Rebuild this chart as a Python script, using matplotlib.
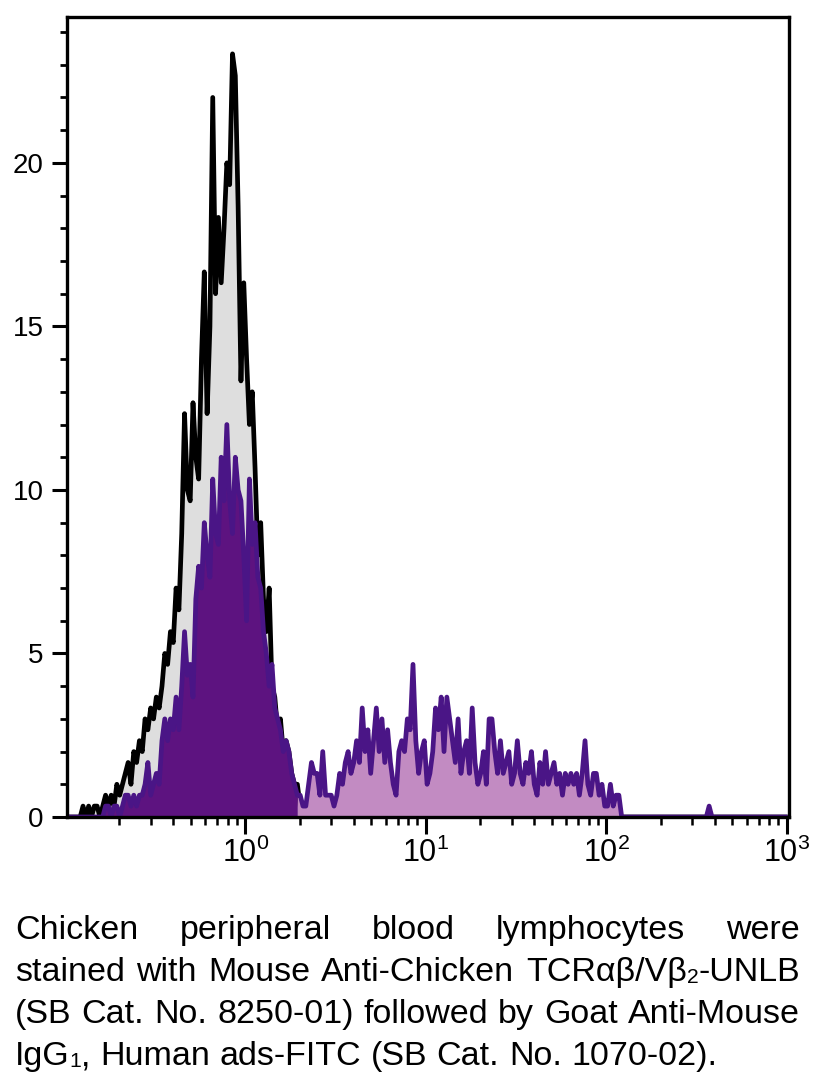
import matplotlib
matplotlib.use('Agg')
import matplotlib.pyplot as plt
import numpy as np
from matplotlib.ticker import LogLocator, MultipleLocator

# canais: 256 canais log, 64 por década, de 10^-1 a 10^3
n_canais = 256
canais_por_decada = 64
log_min = -1

# eventos por canal (3 eventos = 1 unidade no eixo y)
escala_y = 1 / 3

# controle (cinza, contorno preto)
controle = ([0] * 6 +
            [1, 0, 1, 0, 1, 1, 0, 1, 2, 1, 2, 1, 3, 2, 3, 4, 5, 3, 6, 5,
             7, 6, 9, 8, 10, 9, 11, 10, 12, 15, 14, 17, 16, 21, 19, 26, 37, 30, 29, 38,
             33, 31, 42, 50, 37, 45, 66, 48, 55, 49, 54, 60, 58, 70, 68, 56, 40, 49, 42, 36,
             39, 32, 24, 27, 20, 17, 21, 12, 11, 8, 9, 6, 7, 6, 4, 3, 3, 1, 1, 0] +
            [0] * 170)

# TCR ab / Vb2 (roxo)
amostra = ([0] * 14 +
           [1, 1, 0, 1, 1, 0, 1, 2, 2, 1, 2, 1, 2, 2, 3, 5, 2, 3, 4, 3,
            7, 9, 7, 9, 8, 11, 8, 12, 17, 13, 14, 11, 20, 23, 21, 27, 24, 22, 31, 26,
            25, 33, 29, 36, 29, 26, 33, 30, 29, 24, 18, 31, 25, 27, 22, 21, 17, 15, 12, 14,
            10, 9, 8, 6, 7, 6, 4, 3, 2, 2, 1, 1, 3, 5, 4, 4, 2, 6, 2, 2,
            2, 1, 2, 4, 3, 5, 6, 4, 5, 7, 5, 10, 6, 8, 4, 7, 10, 6, 9, 5,
            8, 5, 3, 2, 6, 7, 6, 9, 8, 14, 7, 4, 6, 7, 3, 4, 6, 10, 8, 11,
            6, 11, 9, 7, 5, 9, 4, 6, 7, 4, 10, 5, 3, 4, 6, 3, 9, 9, 6, 4,
            7, 4, 5, 6, 3, 4, 7, 4, 3, 5, 4, 6, 3, 2, 5, 3, 6, 3, 4, 5,
            3, 4, 2, 4, 3, 4, 3, 4, 2, 4, 7, 3, 2, 4, 4, 2, 3, 1, 1, 3,
            1, 2, 2] +
           [0] * 31 + [1] + [0] * 27)

ultimo_canal_escuro = 82   # preenchimento roxo escuro até ~2

ticks_y = [0, 5, 10, 15, 20]

legenda = [
    ["Chicken", "peripheral", "blood", "lymphocytes", "were"],
    ["stained", "with", "Mouse", "Anti-Chicken", "TCRαβ/Vβ_2-UNLB"],
    ["(SB", "Cat.", "No.", "8250-01)", "followed", "by", "Goat", "Anti-Mouse"],
    ["IgG_1,", "Human", "ads-FITC", "(SB", "Cat.", "No.", "1070-02)."],
]
justificar = [True, True, True, False]

#------------------------------------------------------------------------------------------#
# Dados
#------------------------------------------------------------------------------------------#

i = np.arange(n_canais)
x = 10 ** (log_min + (i + 0.5) / canais_por_decada)
y_ctrl = np.array(controle) * escala_y
y_amos = np.array(amostra) * escala_y

#------------------------------------------------------------------------------------------#
# Figura
#------------------------------------------------------------------------------------------#

plt.rcParams['font.family'] = ['Liberation Sans', 'DejaVu Sans']
plt.rcParams['mathtext.default'] = 'regular'

W, H = 822, 1083
fig = plt.figure(figsize=(W / 100, H / 100), dpi=100)
ax = fig.add_axes([67 / W, 1 - 817 / H, 722 / W, 800 / H])

preto = '#000000'
cinza = '#dedede'
roxo_linha = '#4a1586'
roxo_escuro = '#5d1380'
roxo_claro = '#c28bc2'
lw = 3.4

ax.fill_between(x, 0, y_ctrl, color=cinza, lw=0, zorder=1)
ax.plot(x, y_ctrl, color=preto, lw=lw, zorder=2)

escuro = i <= ultimo_canal_escuro
claro = i >= ultimo_canal_escuro
ax.fill_between(x, 0, y_amos, where=escuro, color=roxo_escuro, lw=0, zorder=3)
ax.fill_between(x, 0, y_amos, where=claro, color=roxo_claro, lw=0, zorder=3)
ax.plot(x, y_amos, color=roxo_linha, lw=lw, zorder=4)

ax.set_xscale('log')
ax.set_xlim(0.103, 1030)
ax.set_ylim(0, 24.46)

ax.xaxis.set_major_locator(LogLocator(base=10, numticks=10))
ax.xaxis.set_minor_locator(LogLocator(base=10, subs=np.arange(2, 10), numticks=20))
ax.set_yticks(ticks_y)
ax.yaxis.set_minor_locator(MultipleLocator(1))

for s in ax.spines.values():
    s.set_linewidth(2.4)
    s.set_zorder(6)

ax.tick_params(axis='x', which='major', direction='out', length=12, width=2.2,
               labelsize=22, pad=3)
ax.tick_params(axis='x', which='minor', direction='out', length=5.8, width=1.8)
ax.tick_params(axis='y', which='major', direction='out', length=10.8, width=2.2,
               labelsize=20, pad=6)
ax.tick_params(axis='y', which='minor', direction='out', length=5.4, width=2.0)

#------------------------------------------------------------------------------------------#
# Legenda justificada
#------------------------------------------------------------------------------------------#

renderer = fig.canvas.get_renderer()
tam = 24.5
esq, dir_ = 15, 800
bases = [939, 981, 1023, 1065]


def partes(palavra):
    # separa subscritos marcados com _
    out = []
    k = 0
    atual = ''
    while k < len(palavra):
        if palavra[k] == '_':
            if atual:
                out.append((atual, False))
            out.append((palavra[k + 1], True))
            atual = ''
            k += 2
        else:
            atual += palavra[k]
            k += 1
    if atual:
        out.append((atual, False))
    return out


def largura(txt, size):
    t = fig.text(0, 0, txt, fontsize=size)
    w = t.get_window_extent(renderer).width
    t.remove()
    return w


def largura_palavra(palavra, size):
    return sum(largura(p, size * (0.62 if sub else 1)) for p, sub in partes(palavra))


espaco = largura('n n', tam) - largura('nn', tam)

for linha, just, base in zip(legenda, justificar, bases):
    ws = [largura_palavra(p, tam) for p in linha]
    if just:
        gap = (dir_ - esq - sum(ws)) / (len(linha) - 1)
    else:
        gap = espaco
    xp = esq
    for p, w in zip(linha, ws):
        xx = xp
        for txt, sub in partes(p):
            s = tam * (0.62 if sub else 1)
            yb = base + (2 if sub else 0)
            fig.text(xx / W, 1 - yb / H, txt, fontsize=s, va='baseline', ha='left')
            xx += largura(txt, s)
        xp += w + gap

fig.savefig('out.png', dpi=100)
